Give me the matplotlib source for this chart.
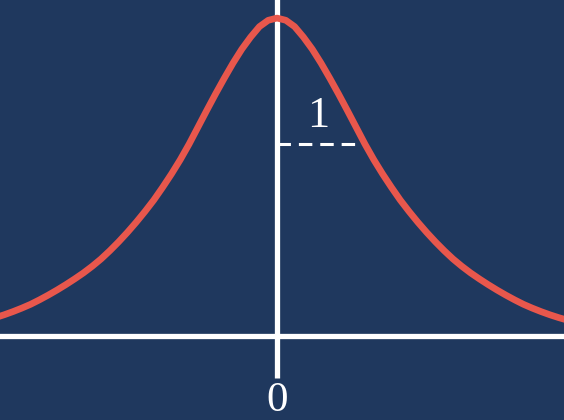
import matplotlib
matplotlib.use("Agg")
import matplotlib.pyplot as plt

# curve values (x in units of the marked width "1", y relative to peak)
x_right = [0.0, 0.1, 0.2, 0.3, 0.4, 0.5, 0.6, 0.7, 0.8, 0.9, 1.0, 1.1, 1.2, 1.3, 1.4,
           1.5, 1.6, 1.7, 1.8, 1.9, 2.0, 2.1, 2.2, 2.3, 2.4, 2.5, 2.6, 2.7, 2.8, 2.9,
           3.0, 3.1, 3.2, 3.3, 3.4]
y_right = [1.000, 0.993, 0.973, 0.940, 0.902, 0.858, 0.810, 0.760, 0.708, 0.655, 0.602,
           0.553, 0.508, 0.466, 0.426, 0.390, 0.356, 0.324, 0.294, 0.266, 0.240, 0.217,
           0.196, 0.177, 0.159, 0.142, 0.126, 0.111, 0.097, 0.085, 0.074, 0.064, 0.055,
           0.047, 0.040]
# the curve is symmetric about the vertical axis
x_vals = [-v for v in x_right[:0:-1]] + x_right
y_vals = y_right[:0:-1] + y_right

width_x = 1.0
width_y = 0.602
width_label = "1"
origin_label = "0"

BG = "#1f385e"
RED = "#e8574c"
WHITE = "#ffffff"

fig = plt.figure(figsize=(5.64, 4.20), dpi=100)
fig.patch.set_facecolor(BG)
ax = fig.add_axes([0, 0, 1, 1])
ax.set_facecolor(BG)
ax.set_xlim(-3.148, 3.261)
ax.set_ylim(-0.268, 1.057)
ax.axis("off")

# axes lines
ax.axhline(-0.004, color=WHITE, lw=3.8, zorder=2)
ax.plot([0, 0], [-0.136, 1.2], color=WHITE, lw=3.8, zorder=2, solid_capstyle="butt")

# dashed width marker
ax.plot([0, width_x], [width_y, width_y], color=WHITE, lw=2.2,
        linestyle=(0, (4.4, 2.6)), zorder=2)

# curve
ax.plot(x_vals, y_vals, color=RED, lw=4.8, zorder=3, solid_capstyle="round",
        solid_joinstyle="round")

ax.text(0.47, 0.69, width_label, color=WHITE, fontsize=32, family="Liberation Serif",
        ha="center", va="center")
ax.text(0.0, -0.208, origin_label, color=WHITE, fontsize=31, family="Liberation Serif",
        ha="center", va="center")

fig.savefig("out.png", dpi=100, facecolor=BG)
